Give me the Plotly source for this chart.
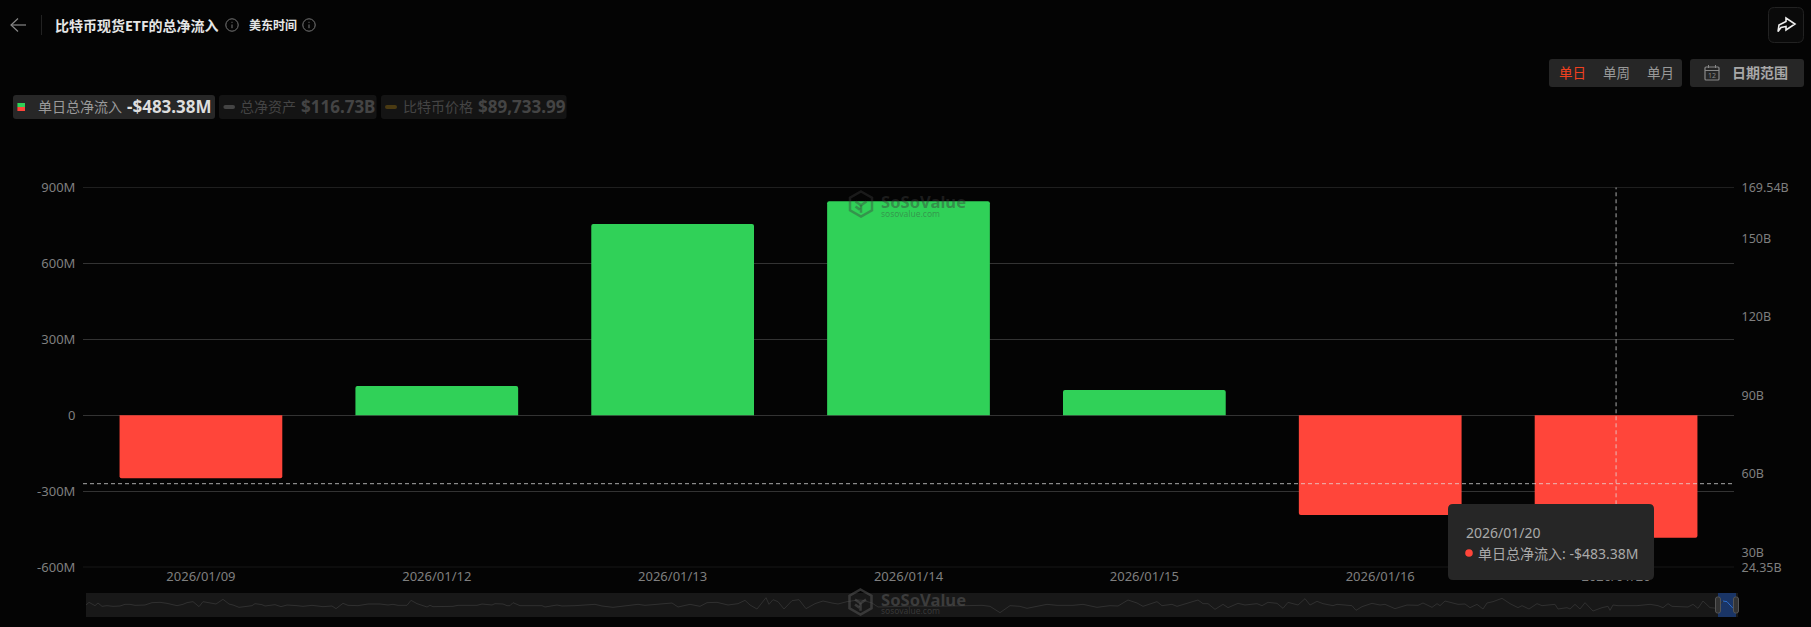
import plotly.graph_objects as go

W, H = 1811, 627
FONT = "Noto Sans, Noto Sans CJK SC, sans-serif"
BG = "#040404"

# ---- data ----
dates = ["2026/01/09", "2026/01/12", "2026/01/13", "2026/01/14", "2026/01/15", "2026/01/16", "2026/01/20"]
net_inflow_m = [-248, 116, 755, 845, 100, -394, -483.38]
assets_date = ["2026/01/20"]
assets_b = [116.73]

left_tick_vals = [900, 600, 300, 0, -300, -600]
left_tick_text = ["900M", "600M", "300M", "0", "-300M", "-600M"]
right_tick_vals = [169.54, 150, 120, 90, 60, 30, 24.35]
right_tick_text = ["169.54B", "150B", "120B", "90B", "60B", "30B", "24.35B"]

crosshair_date = "2026/01/20"
crosshair_value = -270

nav_idx = [0,3,9,12,16,21,27,34,39,44,49,59,66,74,81,91,97,101,107,113,117,122,126,130,137,143,147,153,161,166,169,176,179,189,195,201,211,217,226,232,237,246,250,257,262,272,282,294,302,307,312,321,325,331,341,344,347,367,372,391,396,406,
409,417,421,424,427,434,446,456,459,471,476,489,509,516,527,539,552,559,582,586,592,604,614,621,631,642,652,659,664,671,680,683,687,692,698,706,713,720,729,737,746,752,761,772,777,786,792,800,815,830,850,865,
881,896,904,914,924,934,941,951,961,971,987,997,1011,1024,1032,1042,1051,1057,1071,1076,1086,1091,1101,1112,1117,1122,1129,1137,1142,1152,1159,1171,1176,1182,1191,1197,1202,1212,1219,1224,1231,1237,
1247,1251,1266,1270,1276,1286,1294,1299,1309,1321,1332,1337,1346,1351,1354,1359,1372,1379,1384,1391,1397,1401,1407,1416,1424,1432,1436,1443,1451,1456,1469,1472,1481,1484,1489,1494,1499,1507,1516,1522,1524,1527,1532,1551,1564,1572,1577,1582,1586,1602,1607,1612,1617,1624,1631,1637,1641,1647]
nav_val = [36,44,34,42,32,34,32,33,38,38,35,36,43,44,41,34,38,43,46,31,46,43,42,39,53,39,36,29,32,34,40,37,33,37,31,36,34,32,35,34,31,33,25,41,35,34,39,39,36,38,35,35,50,40,30,35,31,32,35,35,39,36,
40,39,34,34,43,34,35,34,30,36,33,34,38,33,29,34,38,35,40,42,30,38,32,43,44,36,40,50,36,24,58,38,52,46,24,49,52,25,40,48,42,39,46,51,50,42,30,31,32,33,32,33,
33,35,32,13,34,32,26,31,38,35,35,38,29,34,33,51,42,32,46,34,38,32,41,51,40,40,23,38,28,41,36,40,34,44,41,26,44,36,55,36,47,40,
34,38,34,20,31,41,36,38,25,36,35,42,29,40,34,48,38,39,28,38,24,42,46,56,40,28,34,24,40,34,38,24,28,24,38,24,43,18,28,32,20,36,34,34,38,34,28,40,32,30,38,26,48,28,26,48,46,26]
nav_window_start = 1637

# ---- layout geometry in page pixels ----
PX0, PX1, PY0, PY1 = 83, 1734, 187.3, 567.3
NX0, NX1, NY0, NY1 = 86, 1738, 593, 617


def fx(x):
    return x / W


def fy(y):
    return 1 - y / H


def rrect(x0, y0, x1, y1, r):
    return (
        f"M {fx(x0+r)} {fy(y0)} L {fx(x1-r)} {fy(y0)} Q {fx(x1)} {fy(y0)} {fx(x1)} {fy(y0+r)} "
        f"L {fx(x1)} {fy(y1-r)} Q {fx(x1)} {fy(y1)} {fx(x1-r)} {fy(y1)} "
        f"L {fx(x0+r)} {fy(y1)} Q {fx(x0)} {fy(y1)} {fx(x0)} {fy(y1-r)} "
        f"L {fx(x0)} {fy(y0+r)} Q {fx(x0)} {fy(y0)} {fx(x0+r)} {fy(y0)} Z"
    )


def poly(points, close=False):
    s = "M " + " L ".join(f"{fx(x)} {fy(y)}" for x, y in points)
    return s + (" Z" if close else "")


shapes = []


def box(x0, y0, x1, y1, r, fill, line=None, lw=1, layer="above"):
    shapes.append(dict(type="path", xref="paper", yref="paper", path=rrect(x0, y0, x1, y1, r),
                       fillcolor=fill, line=dict(color=line or "rgba(0,0,0,0)", width=lw if line else 0), layer=layer))


def stroke(points, color, lw=1, close=False, layer="above"):
    shapes.append(dict(type="path", xref="paper", yref="paper", path=poly(points, close),
                       line=dict(color=color, width=lw), layer=layer))


def circle(cx, cy, r, fill=None, line=None, lw=1):
    shapes.append(dict(type="circle", xref="paper", yref="paper", x0=fx(cx-r), x1=fx(cx+r), y0=fy(cy+r), y1=fy(cy-r),
                       fillcolor=fill or "rgba(0,0,0,0)", line=dict(color=line or "rgba(0,0,0,0)", width=lw if line else 0), layer="above"))


annotations = []


def text(x, y, s, size=12, color="#999", anchor="left", bold=False):
    annotations.append(dict(xref="paper", yref="paper", x=fx(x), y=fy(y), text=f"<b>{s}</b>" if bold else s,
                            showarrow=False, xanchor=anchor, yanchor="middle", borderpad=0,
                            font=dict(family=FONT, size=size, color=color)))


def info_icon(cx, cy):
    circle(cx, cy, 6.2, line="#777", lw=1)
    stroke([(cx, cy-0.5), (cx, cy+3.2)], "#777", 1)
    stroke([(cx, cy-3.2), (cx, cy-2.2)], "#777", 1)


def hexagon(cx, cy, rx, ry, color):
    stroke([(cx, cy-ry), (cx+rx, cy-ry/2), (cx+rx, cy+ry/2), (cx, cy+ry), (cx-rx, cy+ry/2), (cx-rx, cy-ry/2)], color, 2.5, close=True)
    stroke([(cx-rx*0.5, cy-ry*0.2), (cx, cy+ry*0.1), (cx+rx*0.5, cy-ry*0.2)], color, 2.5)
    stroke([(cx, cy+ry*0.1), (cx, cy+ry*0.7)], color, 2.5)
    stroke([(cx-rx*0.5, cy+ry*0.2), (cx-rx*0.1, cy+ry*0.45)], color, 2.5)


# grid lines at the two ends of the value range, which the axis itself leaves out
for edge in (left_tick_vals[0], left_tick_vals[-1]):
    shapes.append(dict(type="line", xref="x domain", yref="y", x0=0, x1=1, y0=edge, y1=edge,
                       line=dict(color="#333333", width=1), layer="below"))

# header
stroke([(11, 25), (26, 25)], "#888", 1.2)
stroke([(18, 18.5), (11, 25), (18, 31.5)], "#888", 1.2)
stroke([(41.5, 15), (41.5, 35)], "#222", 1)
text(53.5, 25.5, "比特币现货ETF的总净流入", 14, "#e6e6e6", bold=True)
info_icon(232, 25)
text(248, 25, "美东时间", 12, "#e6e6e6", bold=True)
info_icon(309, 25)

# share button
box(1768.5, 7.5, 1803.5, 42.5, 6, "#0a0a0a", "#222")
stroke([(1778, 31.5), (1779, 25), (1786, 21.5), (1786, 18), (1795, 24), (1786, 30), (1786, 26.5), (1781, 27.5)], "#eeeeee", 1.6, close=True)

# range buttons
box(1549, 59, 1682, 87, 3, "#262626")
text(1557.5, 73, "单日", 13.5, "#f0401f")
text(1601.5, 73, "单周", 13.5, "#999")
text(1645.5, 73, "单月", 13.5, "#999")
box(1690, 59, 1804, 87, 3, "#262626")
box(1705, 67, 1719, 80, 1, "rgba(0,0,0,0)", "#888", 1.2)
stroke([(1705, 70.5), (1719, 70.5)], "#888", 1)
stroke([(1708.5, 65), (1708.5, 68)], "#888", 1)
stroke([(1715.5, 65), (1715.5, 68)], "#888", 1)
text(1712, 75.5, "12", 7, "#888", anchor="center")
text(1730.5, 73, "日期范围", 14, "#a8a8a8", bold=True)

# legend chips
box(13, 95, 215, 119, 3, "#272727")
shapes.append(dict(type="rect", xref="paper", yref="paper", x0=fx(17.4), x1=fx(25), y0=fy(107), y1=fy(103), fillcolor="#30D158", line=dict(width=0), layer="above"))
shapes.append(dict(type="rect", xref="paper", yref="paper", x0=fx(17.4), x1=fx(25), y0=fy(111), y1=fy(107), fillcolor="#FF453A", line=dict(width=0), layer="above"))
text(36.5, 107, "单日总净流入", 14, "#9a9a9a")
text(126, 107, "-$483.38M", 17, "#dddddd", bold=True)
box(219, 95, 376.5, 119, 3, "#141414")
box(223.4, 105, 235, 109, 2, "#444444")
text(239, 107, "总净资产", 14, "#444444")
text(299.5, 107, "$116.73B", 17, "#444444", bold=True)
box(381, 95, 566.6, 119, 3, "#141414")
box(385, 105, 397, 109, 2, "#4a3a12")
text(401.5, 107, "比特币价格", 14, "#444444")
text(476.5, 107, "$89,733.99", 17, "#444444", bold=True)

# watermark over chart
hexagon(861, 204, 11, 12.5, "rgba(60,60,60,0.40)")
text(880, 201, "SoSoValue", 16.6, "rgba(60,60,60,0.45)", bold=True)
text(880, 213, "sosovalue.com", 8.5, "rgba(60,60,60,0.40)")

# navigator
shapes.append(dict(type="rect", xref="paper", yref="paper", x0=fx(NX0), x1=fx(NX1), y0=fy(NY1), y1=fy(NY0), fillcolor="#181818", line=dict(width=0), layer="below"))
shapes.append(dict(type="rect", xref="paper", yref="paper", x0=fx(1718), x1=fx(1736), y0=fy(NY1), y1=fy(NY0), fillcolor="#1a3566", line=dict(width=0), layer="below"))
box(1715.5, 597, 1720.5, 613, 2, "#333333", "#555555", 1)
box(1733.5, 597, 1738.5, 613, 2, "#333333", "#555555", 1)
hexagon(860.5, 602, 11, 12.5, "rgba(85,85,85,0.55)")
text(880, 599, "SoSoValue", 16.6, "rgba(85,85,85,0.6)", bold=True)
text(880, 610, "sosovalue.com", 8.5, "rgba(85,85,85,0.55)")

# crosshair (in data space)
shapes.append(dict(type="line", xref="x", yref="y", x0=crosshair_date, x1=crosshair_date, y0=-600, y1=900,
                   line=dict(color="rgba(225,225,225,0.75)", width=1, dash="4px,3px"), layer="above"))
shapes.append(dict(type="line", xref="x domain", yref="y", x0=0, x1=1, y0=crosshair_value, y1=crosshair_value,
                   line=dict(color="rgba(225,225,225,0.75)", width=1, dash="4px,3px"), layer="above"))

# tooltip
box(1448, 504, 1654, 580, 5, "#262626")
text(1465, 532, "2026/01/20", 14, "#aaaaaa")
circle(1469, 553, 3.8, fill="#FF453A")
text(1477, 553, "单日总净流入: -$483.38M", 14, "#aaaaaa")

fig = go.Figure()
fig.add_trace(go.Bar(
    x=dates, y=net_inflow_m, xaxis="x", yaxis="y",
    marker=dict(color=["#30D158" if v >= 0 else "#FF453A" for v in net_inflow_m], line=dict(width=0), cornerradius=2),
    hoverinfo="skip",
))
fig.add_trace(go.Scatter(x=assets_date, y=assets_b, xaxis="x", yaxis="y2", mode="markers",
                         marker=dict(opacity=0), hoverinfo="skip"))
fig.add_trace(go.Scatter(x=nav_idx, y=nav_val, xaxis="x2", yaxis="y3", mode="lines",
                         line=dict(color="#303030", width=1), hoverinfo="skip"))
win_x = [i for i in nav_idx if i >= nav_window_start]
win_y = [v for i, v in zip(nav_idx, nav_val) if i >= nav_window_start]
fig.add_trace(go.Scatter(x=win_x, y=win_y, xaxis="x2", yaxis="y3", mode="lines",
                         line=dict(color="#2a6fd6", width=1), hoverinfo="skip"))

tick_font = dict(family=FONT, size=13, color="#7f7f7f")
right_font = dict(family=FONT, size=12.5, color="#7f7f7f")
fig.update_layout(
    width=W, height=H, margin=dict(l=0, r=0, t=0, b=0), autosize=False,
    paper_bgcolor=BG, plot_bgcolor="rgba(0,0,0,0)", showlegend=False, bargap=0.31,
    hovermode=False, font=dict(family=FONT),
    shapes=shapes, annotations=annotations,
    xaxis=dict(domain=[fx(PX0), fx(PX1)], anchor="y", type="category", categoryorder="array", categoryarray=dates,
               automargin=False, showgrid=False, zeroline=False, showline=False, ticks="", ticklen=0,
               tickfont=tick_font),
    yaxis=dict(domain=[fy(PY1), fy(PY0)], anchor="x", range=[-600, 900], tickmode="array", automargin=False,
               tickvals=left_tick_vals, ticktext=left_tick_text, showgrid=True, gridcolor="#333333", gridwidth=1,
               zeroline=True, zerolinecolor="#333333", zerolinewidth=1, showline=False, ticks="outside", ticklen=4,
               tickcolor="rgba(0,0,0,0)", tickfont=tick_font),
    yaxis2=dict(domain=[fy(PY1), fy(PY0)], anchor="x", overlaying="y", side="right", range=[24.35, 169.54], automargin=False,
                tickmode="array", tickvals=right_tick_vals, ticktext=right_tick_text, showgrid=False, zeroline=False,
                showline=False, ticks="outside", ticklen=4, tickcolor="rgba(0,0,0,0)", tickfont=right_font),
    xaxis2=dict(domain=[fx(NX0), fx(NX1)], anchor="y3", range=[0, NX1-NX0], visible=False, automargin=False),
    yaxis3=dict(domain=[fy(NY1), fy(NY0)], anchor="x2", range=[0, 72], visible=False, automargin=False),
)

fig.write_html("out.html", config=dict(displayModeBar=False),
               post_script=f"document.body.style.margin='0';document.body.style.background='{BG}';document.body.style.overflow='hidden';")
